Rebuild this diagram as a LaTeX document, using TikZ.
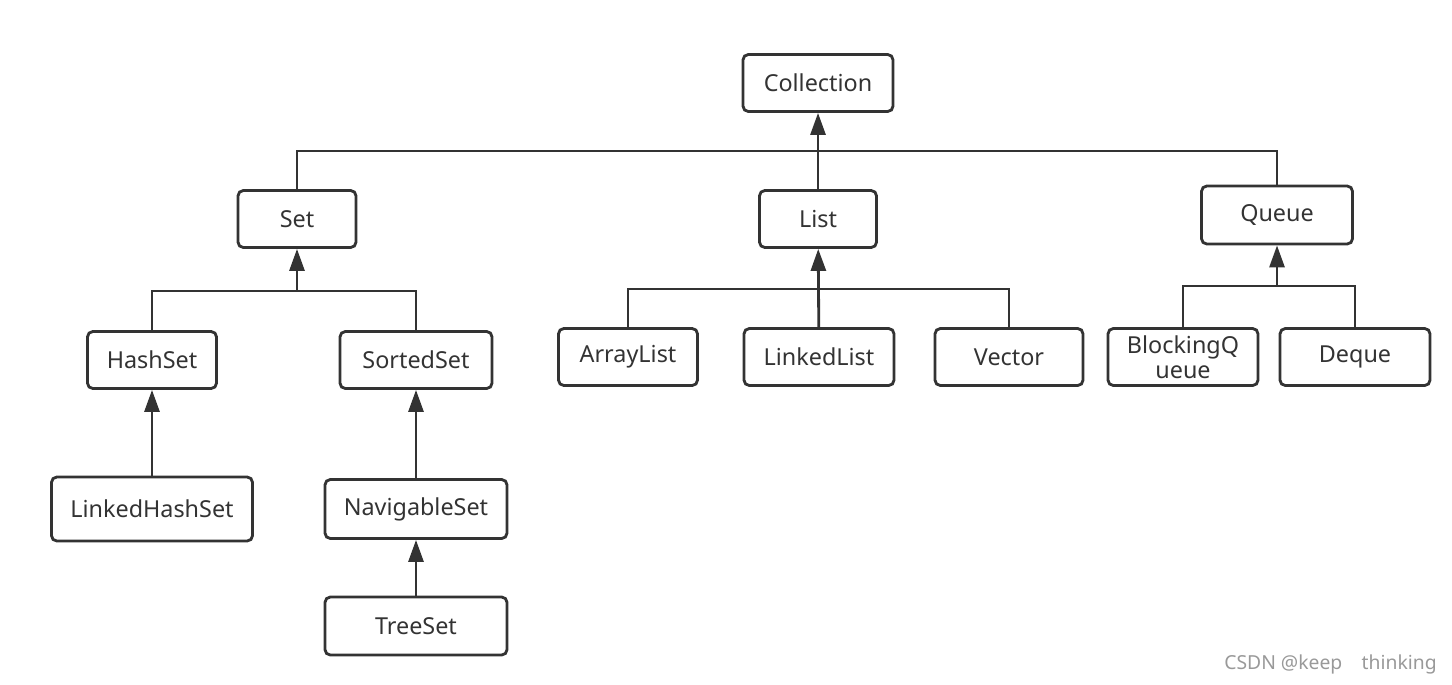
\documentclass[tikz,border=0pt]{standalone}
\usepackage{fontspec}
\setmainfont{Noto Sans}
\usetikzlibrary{arrows.meta}
\definecolor{ink}{HTML}{333333}
\tikzset{
  box/.style={draw=ink, line width=1.6pt, rounded corners=3pt, text=ink,
    minimum height=1.14cm, align=center, inner sep=1pt,
    font=\fontsize{13.3}{14}\selectfont},
  link/.style={draw=ink, line width=1.6pt},
  up/.style={link, -{Triangle[length=0.44cm, width=0.3cm]}}
}
\begin{document}
\begin{tikzpicture}[x=0.02cm, y=-0.02cm]
\useasboundingbox (0,0) rectangle (1452,684);
% boites
\node [box, minimum width=3cm] (collection) at (818,83) {Collection};
\node [box, minimum width=2.36cm] (set) at (297,219) {Set};
\node [box, minimum width=2.34cm] (list) at (818,219) {List};
\node [box, minimum width=3.02cm, minimum height=1.16cm] (queue) at (1277,215) {Queue};
\node [box, minimum width=2.58cm] (hashset) at (152,360) {HashSet};
\node [box, minimum width=3.04cm] (sortedset) at (416,360) {SortedSet};
\node [box, minimum width=4.02cm, minimum height=1.28cm] (linkedhashset) at (152,509) {LinkedHashSet};
\node [box, minimum width=3.64cm, minimum height=1.18cm] (navigableset) at (416,509) {NavigableSet};
\node [box, minimum width=3.64cm, minimum height=1.16cm] (treeset) at (416,626) {TreeSet};
\node [box, minimum width=2.78cm] (arraylist) at (628,357) {ArrayList};
\node [box, minimum width=3cm] (linkedlist) at (819,357) {LinkedList};
\node [box, minimum width=2.96cm] (vector) at (1009,357) {Vector};
\node [box, minimum width=3cm] (blockingqueue) at (1183,357) {BlockingQ\\ueue};
\node [box, minimum width=3cm] (deque) at (1355,357) {Deque};
% barres
\coordinate (topbar) at (818,151);
\coordinate (setbar) at (297,291);
\coordinate (listbar) at (818,289);
\coordinate (queuebar) at (1277,286);
% liens
\draw [link] (set) |- (topbar) -| (queue);
\draw [up] (list) -- (collection);
\draw [link] (hashset) |- (setbar) -| (sortedset);
\draw [up] (setbar) -- (set);
\draw [link] (arraylist) |- (listbar) -| (vector);
\draw [up] (linkedlist) -- (list);
\draw [link] (blockingqueue) |- (queuebar) -| (deque);
\draw [up] (queuebar) -- (queue);
\draw [up] (linkedhashset) -- (hashset);
\draw [up] (navigableset) -- (sortedset);
\draw [up] (treeset) -- (navigableset);
% signature
\node [anchor=east, text=gray!80, inner sep=0pt, font=\fontsize{11}{12}\selectfont] (mark) at (1437,664) {CSDN @keep\quad thinking};
\end{tikzpicture}
\end{document}
